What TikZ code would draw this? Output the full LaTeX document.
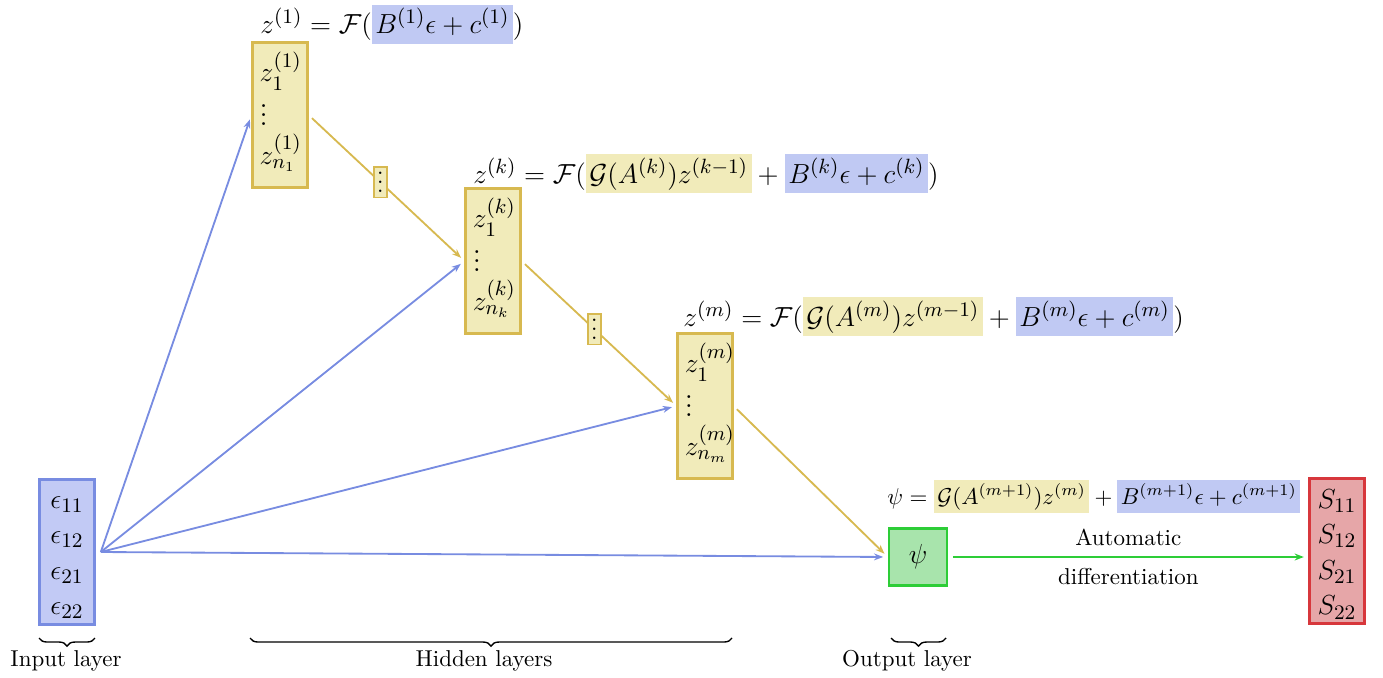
\documentclass[tikz,border=0pt]{standalone}
\usepackage{amssymb, amsmath}
\usepackage{xcolor}
\usetikzlibrary{arrows.meta,positioning,calc,decorations.pathreplacing}

\definecolor{infill}{RGB}{194,202,245}
\definecolor{indraw}{RGB}{120,140,225}
\definecolor{hidfill}{RGB}{241,235,186}
\definecolor{hiddraw}{RGB}{215,185,80}
\definecolor{outfill}{RGB}{168,228,172}
\definecolor{outdraw}{RGB}{45,205,55}
\definecolor{resfill}{RGB}{230,166,168}
\definecolor{resdraw}{RGB}{215,55,60}
\definecolor{hlyel}{RGB}{241,235,186}
\definecolor{hlblu}{RGB}{192,201,243}

\newcommand{\hly}[1]{{\setlength{\fboxsep}{1.5pt}\colorbox{hlyel}{$\mathstrut #1$}}}
\newcommand{\hlb}[1]{{\setlength{\fboxsep}{1.5pt}\colorbox{hlblu}{$\mathstrut #1$}}}
\newcommand{\threedots}{\leavevmode\vbox{\baselineskip4pt\lineskiplimit0pt\hbox{.}\hbox{.}\hbox{.}}}

\tikzset{
  layerbox/.style={draw, line width=1pt, minimum width=0.84cm, minimum height=2.22cm, inner sep=0pt},
  inbox/.style={layerbox, draw=indraw, fill=infill, align=center, font=\fontsize{13}{15.5}\selectfont},
  hidbox/.style={layerbox, draw=hiddraw, fill=hidfill, align=left, text width=0.62cm, font=\fontsize{13}{16}\selectfont},
  resbox/.style={layerbox, draw=resdraw, fill=resfill, align=center, font=\fontsize{13}{15.5}\selectfont},
  outbox/.style={draw=outdraw, fill=outfill, line width=1pt, minimum width=0.89cm, minimum height=0.87cm, font=\large},
  dotbox/.style={draw=hiddraw, fill=hidfill, line width=0.8pt, minimum width=0.2cm, minimum height=0.47cm, inner sep=0pt},
  formula/.style={inner sep=0pt, font=\fontsize{12.5}{15}\selectfont},
  inarrow/.style={draw=indraw, line width=0.8pt, -{Stealth[length=4pt,width=3pt]}, shorten >=2pt},
  hidarrow/.style={draw=hiddraw, line width=0.8pt, -{Stealth[length=4pt,width=3pt]}, shorten >=2pt, shorten <=2pt},
  resarrow/.style={draw=outdraw, line width=0.8pt, -{Stealth[length=4pt,width=3pt]}, shorten >=2pt, shorten <=2pt},
  brc/.style={decorate, decoration={brace, mirror, amplitude=3.5pt}, line width=0.6pt},
  layerlabel/.style={inner sep=0pt}
}

\begin{document}
\begin{tikzpicture}[x=0.0153cm, y=-0.0153cm]

\useasboundingbox (0,0) rectangle (1383,677);

\node[inbox] (eps) at (67,552) {\rule{0pt}{10pt}$\epsilon_{11}$\\$\epsilon_{12}$\\$\epsilon_{21}$\\$\epsilon_{22}$};

\node[hidbox] (h1) at (280,115) {$z_1^{(1)}$\\[3pt]\threedots\\[1pt]$z_{n_1}^{(1)}$\rule[-6pt]{0pt}{0pt}};
\node[hidbox] (hk) at (493,261) {$z_1^{(k)}$\\[3pt]\threedots\\[1pt]$z_{n_k}^{(k)}$\rule[-6pt]{0pt}{0pt}};
\node[hidbox] (hm) at (705,406) {$z_1^{(m)}$\\[3pt]\threedots\\[1pt]$z_{n_m}^{(m)}$\rule[-6pt]{0pt}{0pt}};

\node[outbox] (psi) at (918,557) {$\psi$};

\node[resbox] (S) at (1337,551) {\rule{0pt}{11pt}$S_{11}$\\$S_{12}$\\$S_{21}$\\$S_{22}$};

\node[formula, anchor=base west] (f1) at (260,34)
  {$z^{(1)} = \mathcal{F}(\hlb{B^{(1)}\epsilon + c^{(1)}})$};
\node[formula, anchor=base west] (fk) at (473,183)
  {$z^{(k)} = \mathcal{F}(\hly{\mathcal{G}(A^{(k)})z^{(k-1)}} + \hlb{B^{(k)}\epsilon + c^{(k)}})$};
\node[formula, anchor=base west] (fm) at (683,326)
  {$z^{(m)} = \mathcal{F}(\hly{\mathcal{G}(A^{(m)})z^{(m-1)}} + \hlb{B^{(m)}\epsilon + c^{(m)}})$};
\node[formula, anchor=base west, font=\fontsize{10.2}{13}\selectfont] (fpsi) at (887,504)
  {$\psi = \hly{\mathcal{G}(A^{(m+1)})z^{(m)}} + \hlb{B^{(m+1)}\epsilon + c^{(m+1)}}$};

\coordinate (src) at ([xshift=0.08cm]eps.east);

\draw[inarrow] (src) -- (h1.west);
\draw[inarrow] (src) -- (hk.west);
\draw[inarrow] (src) -- (hm.west);
\draw[inarrow] (src) -- (psi.west);

\draw[hidarrow] (h1.east) -- node[dotbox, pos=0.46] (d1) {\threedots} (hk.west);
\draw[hidarrow] (hk.east) -- node[dotbox, pos=0.47] (d2) {\threedots} (hm.west);
\draw[hidarrow] (hm.east) -- (psi.west);

\draw[resarrow] (psi.east) -- node[above=1pt] (auto) {Automatic} node[below=1pt] (diff) {differentiation} (psi.east -| S.west);

\draw[brc] (39,638) -- (95,638);
\draw[brc] (250,638) -- (732,638);
\draw[brc] (891,638) -- (946,638);

\node[layerlabel] (lin) at (66,661) {Input layer};
\node[layerlabel] (lhid) at (484,661) {Hidden layers};
\node[layerlabel] (lout) at (907,661) {Output layer};

\end{tikzpicture}
\end{document}
